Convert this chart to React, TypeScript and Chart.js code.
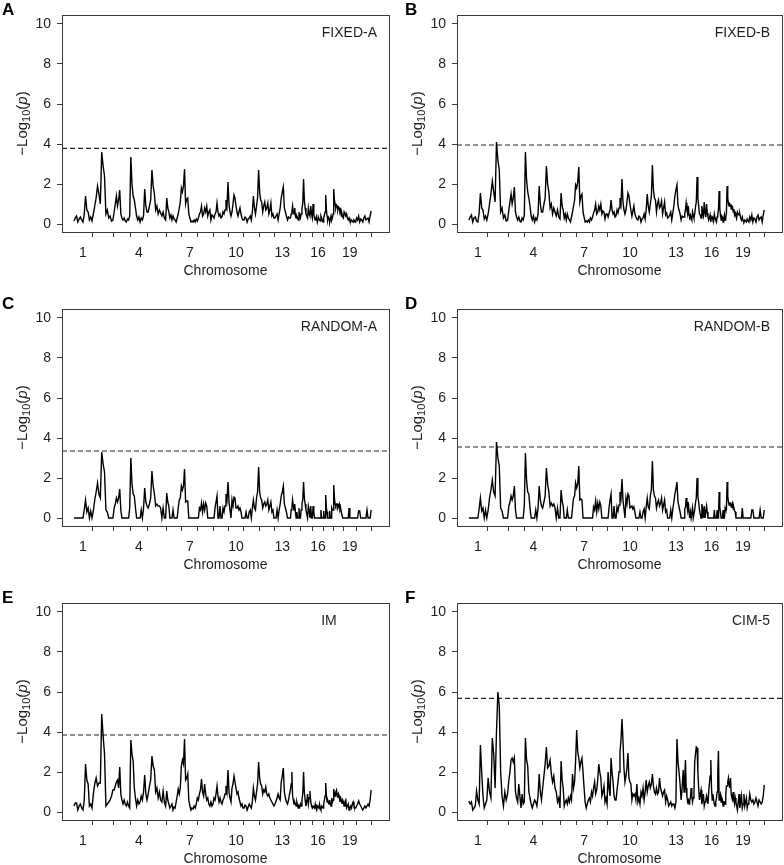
import React, { useEffect, useRef } from "react";
import { Chart, registerables } from "chart.js";

Chart.register(...registerables);

const FONT = "'Liberation Sans', Arial, sans-serif";
const TEXT = "#1e1e1e";
const AXIS = "#3a3a3a";

// Chromosome lengths (cM) and the labelled chromosomes
const CHR_LENGTHS = [116, 126, 100, 104, 112, 94, 96, 94, 90, 90, 94, 92, 94, 64, 72, 64, 60, 62, 74, 94];
const CHR_LABELS = ["1", "4", "7", "10", "13", "16", "19"];
const Y_TICKS = [0, 2, 4, 6, 8, 10];
const Y_MIN = -0.4;
const Y_MAX = 10.45;
const X_MIN = -68;
const X_MAX = 1896;

// -log10(p) scan profiles, one array of values per chromosome
const FIXED_A = [
  [0.15, 0.3, 0.4, 0.1, 0.25, 0.35, 0.2, 0.1, 0.5, 1.4, 0.7, 0.6, 0.2, 0.35, 0.15],
  [0.5, 0.9, 1.3, 1.9, 1.5, 1.0, 3.6, 2.9, 2.4, 0.5, 0.7, 0.3, 0.4, 0.15, 0.2],
  [0.6, 1.0, 1.4, 0.9, 1.2, 1.7, 0.5, 0.3, 0.2, 0.3, 0.15, 0.1, 0.25, 0.2, 0.4],
  [3.35, 2.0, 1.4, 1.2, 0.8, 0.4, 0.2, 0.35, 0.1, 0.3, 0.2, 0.4, 1.75, 0.9, 0.6],
  [0.6, 0.9, 1.2, 2.7, 1.9, 1.5, 0.7, 0.9, 0.5, 0.7, 0.55, 0.4, 0.6, 0.3, 0.2],
  [1.3, 0.8, 0.6, 0.3, 0.45, 0.2, 0.4, 0.25, 0.2, 0.1, 0.3, 0.5, 0.8, 1.1, 1.8],
  [1.6, 1.9, 2.75, 1.0, 1.25, 1.3, 0.5, 0.3, 0.1, 0.15, 0.1, 0.2, 0.1, 0.25, 0.15],
  [0.3, 0.5, 0.6, 0.9, 0.4, 0.5, 0.8, 0.6, 0.9, 0.4, 0.6, 0.7, 0.2, 0.45, 0.4],
  [0.3, 0.5, 0.6, 1.05, 0.6, 0.4, 0.5, 0.3, 0.35, 0.6, 0.5, 0.7, 1.2, 0.9, 2.1],
  [1.0, 0.6, 0.4, 0.6, 1.0, 1.45, 1.3, 0.9, 0.6, 0.4, 0.6, 0.8, 0.5, 0.3, 0.2],
  [0.2, 0.35, 0.3, 0.1, 0.25, 0.3, 0.4, 0.2, 0.6, 1.4, 0.8, 0.5, 0.9, 1.3, 2.7],
  [1.6, 1.2, 1.1, 0.6, 0.9, 1.1, 0.7, 0.8, 1.05, 0.5, 0.7, 1.05, 0.4, 0.5, 0.3],
  [0.3, 0.4, 0.5, 0.2, 0.5, 0.8, 1.3, 1.6, 1.85, 0.8, 0.6, 0.4, 0.2, 0.35, 0.3],
  [0.3, 0.5, 0.6, 0.9, 0.6, 0.5, 0.8, 0.4, 0.3, 0.4, 0.3, 0.2, 0.6, 0.4, 0.3],
  [0.5, 0.8, 1.0, 2.25, 1.2, 0.8, 0.5, 0.4, 0.3, 0.8, 0.5, 0.4, 0.9, 0.5, 0.3],
  [1.0, 0.5, 0.3, 0.2, 0.3, 0.4, 0.1, 0.25, 0.3, 0.2, 0.15, 0.4, 0.3, 0.2, 0.1],
  [0.3, 0.45, 0.6, 1.45, 0.7, 0.4, 0.2, 0.35, 0.3, 0.1, 0.25, 0.4, 0.2, 0.3, 0.5],
  [1.75, 1.2, 1.0, 0.8, 0.95, 0.9, 0.7, 0.85, 0.8, 0.6, 0.7, 0.4, 0.5, 0.35, 0.3],
  [0.6, 0.5, 0.4, 0.5, 0.3, 0.2, 0.3, 0.15, 0.1, 0.2, 0.15, 0.1, 0.2, 0.15, 0.1],
  [0.3, 0.2, 0.4, 0.1, 0.25, 0.2, 0.1, 0.3, 0.4, 0.2, 0.25, 0.3, 0.1, 0.4, 0.65],
];

const FIXED_B = [
  [0.2, 0.35, 0.45, 0.1, 0.3, 0.35, 0.15, 0.1, 0.55, 1.55, 0.8, 0.7, 0.25, 0.4, 0.2],
  [0.5, 1.0, 1.5, 2.15, 1.6, 1.1, 4.1, 3.2, 2.7, 0.6, 0.8, 0.3, 0.45, 0.15, 0.2],
  [0.7, 1.1, 1.5, 1.0, 1.3, 1.85, 0.6, 0.35, 0.2, 0.35, 0.15, 0.1, 0.3, 0.2, 0.45],
  [3.6, 2.2, 1.6, 1.3, 0.9, 0.4, 0.2, 0.4, 0.1, 0.3, 0.2, 0.5, 1.9, 1.0, 0.6],
  [0.6, 1.0, 1.3, 2.9, 2.0, 1.6, 0.8, 1.0, 0.5, 0.8, 0.6, 0.4, 0.7, 0.35, 0.25],
  [1.55, 0.9, 0.7, 0.3, 0.5, 0.2, 0.5, 0.3, 0.2, 0.1, 0.35, 0.6, 0.9, 1.2, 1.95],
  [1.8, 2.1, 2.85, 1.1, 1.4, 1.5, 0.6, 0.35, 0.1, 0.15, 0.1, 0.2, 0.1, 0.3, 0.2],
  [0.35, 0.55, 0.7, 1.0, 0.5, 0.6, 0.9, 0.7, 1.0, 0.5, 0.65, 0.6, 0.25, 0.5, 0.5],
  [0.35, 0.55, 0.7, 1.2, 0.7, 0.5, 0.6, 0.35, 0.4, 0.7, 0.55, 0.8, 1.3, 1.0, 2.25],
  [1.1, 0.7, 0.5, 0.7, 1.1, 1.55, 1.4, 1.0, 0.7, 0.4, 0.65, 0.9, 0.5, 0.35, 0.25],
  [0.2, 0.4, 0.35, 0.1, 0.25, 0.3, 0.5, 0.25, 0.7, 1.5, 0.9, 0.6, 1.0, 1.4, 2.95],
  [1.7, 1.3, 1.2, 0.6, 1.0, 1.2, 0.8, 0.9, 1.15, 0.5, 0.8, 1.1, 0.45, 0.55, 0.3],
  [0.35, 0.45, 0.6, 0.2, 0.55, 0.9, 1.4, 1.7, 1.95, 0.9, 0.7, 0.5, 0.2, 0.4, 0.35],
  [0.35, 0.55, 0.7, 1.05, 0.7, 0.5, 0.9, 0.45, 0.35, 0.45, 0.3, 0.2, 0.6, 0.45, 0.3],
  [0.5, 0.85, 1.1, 2.35, 1.3, 0.9, 0.5, 0.45, 0.3, 0.9, 0.55, 0.4, 1.1, 0.55, 0.35],
  [1.0, 0.55, 0.35, 0.2, 0.3, 0.45, 0.1, 0.3, 0.35, 0.2, 0.15, 0.5, 0.3, 0.2, 0.1],
  [0.35, 0.5, 0.7, 1.65, 0.8, 0.45, 0.2, 0.4, 0.35, 0.1, 0.25, 0.45, 0.2, 0.3, 0.55],
  [1.9, 1.3, 1.0, 0.9, 1.0, 0.95, 0.75, 0.9, 0.85, 0.6, 0.75, 0.45, 0.55, 0.4, 0.3],
  [0.6, 0.5, 0.45, 0.5, 0.3, 0.2, 0.35, 0.15, 0.1, 0.2, 0.15, 0.1, 0.25, 0.15, 0.1],
  [0.35, 0.2, 0.45, 0.1, 0.3, 0.25, 0.1, 0.35, 0.45, 0.2, 0.3, 0.35, 0.1, 0.45, 0.7],
];

const RANDOM_A = [
  [0, 0, 0, 0, 0, 0, 0, 0, 0.4, 0.9, 0.3, 0.5, 0, 0.35, 0],
  [0.35, 0.9, 1.3, 1.75, 1.2, 1.0, 3.3, 2.7, 2.3, 0.4, 0.3, 0, 0, 0, 0],
  [0.5, 0.7, 1.0, 0.8, 1.0, 1.45, 0.4, 0, 0, 0, 0, 0, 0, 0, 0.5],
  [3.0, 1.7, 1.2, 1.1, 0.5, 0, 0, 0, 0, 0.4, 0, 0.5, 1.5, 0.8, 0.6],
  [0.5, 0.7, 1.0, 2.35, 1.6, 1.2, 0.6, 0.7, 0.6, 0.6, 0.5, 0, 0.5, 0, 0],
  [1.25, 0.8, 0.6, 0, 0, 0, 0.4, 0, 0, 0, 0, 0.5, 0.9, 1.0, 1.6],
  [1.4, 1.6, 2.45, 0.8, 0.85, 0.85, 0, 0, 0, 0, 0, 0, 0, 0, 0],
  [0, 0.5, 0.4, 0.75, 0.3, 0.7, 0.4, 0.75, 0.6, 0, 0, 0, 0, 0, 0],
  [0, 0.5, 0.8, 1.1, 0, 0, 0.6, 0, 0, 0.5, 0.3, 0.6, 1.2, 0.9, 1.8],
  [0.8, 0.4, 0, 0.9, 0.6, 1.05, 1.0, 0.5, 0.5, 0.6, 0.4, 0.5, 0.3, 0, 0],
  [0, 0, 0.3, 0, 0, 0.3, 0.4, 0, 0.5, 0.9, 0.5, 0.4, 1.0, 1.3, 2.55],
  [1.3, 1.0, 0.9, 0.5, 0.7, 0.8, 0.6, 0.7, 0.9, 0.4, 0.6, 0.8, 0.3, 0.4, 0],
  [0, 0, 0.4, 0, 0.4, 0.7, 1.1, 1.3, 1.6, 0.7, 0.5, 0.3, 0, 0, 0],
  [0, 0.4, 0.5, 0.9, 0.6, 0.4, 0.7, 0.3, 0, 0.3, 0, 0, 0.5, 0, 0],
  [0.4, 0.7, 0.9, 1.8, 1.0, 0.7, 0.4, 0.2, 0, 0.6, 0.4, 0, 0.6, 0, 0],
  [0.6, 0.3, 0, 0, 0, 0, 0, 0, 0, 0, 0, 0.4, 0, 0, 0],
  [0.35, 0, 0, 1.15, 0.5, 0.3, 0, 0, 0, 0.35, 0, 0, 0.5, 0.4, 0.4],
  [1.65, 1.0, 0.7, 0.6, 0.7, 0.7, 0.5, 0.6, 0.7, 0.4, 0.5, 0.3, 0.3, 0, 0],
  [0, 0, 0, 0, 0, 0, 0.5, 0, 0, 0, 0, 0, 0, 0, 0],
  [0, 0, 0.35, 0.35, 0, 0, 0, 0, 0, 0, 0.4, 0, 0, 0, 0.4],
];

const RANDOM_B = [
  [0, 0, 0, 0, 0, 0, 0, 0, 0.45, 1.0, 0.35, 0.5, 0, 0.4, 0],
  [0.4, 1.0, 1.4, 1.9, 1.3, 1.1, 3.8, 3.0, 2.6, 0.5, 0.35, 0, 0, 0, 0],
  [0.6, 0.8, 1.1, 0.9, 1.1, 1.6, 0.4, 0, 0, 0, 0, 0, 0, 0, 0.6],
  [3.25, 1.9, 1.3, 1.2, 0.5, 0, 0, 0, 0, 0.4, 0, 0.5, 1.6, 0.9, 0.6],
  [0.5, 0.8, 1.1, 2.5, 1.7, 1.3, 0.6, 0.75, 0.6, 0.7, 0.5, 0, 0.5, 0, 0],
  [1.4, 0.85, 0.6, 0, 0, 0, 0.4, 0, 0, 0, 0, 0.5, 1.0, 1.1, 1.75],
  [1.5, 1.7, 2.6, 0.9, 0.95, 0.9, 0, 0, 0, 0, 0, 0, 0, 0, 0],
  [0, 0.55, 0.4, 0.85, 0.3, 0.75, 0.45, 0.8, 0.6, 0, 0, 0, 0, 0, 0],
  [0, 0.55, 0.9, 1.2, 0, 0, 0.6, 0, 0, 0.55, 0.35, 0.65, 1.3, 1.0, 1.95],
  [0.9, 0.45, 0, 1.0, 0.7, 1.2, 1.1, 0.5, 0.55, 0.6, 0.45, 0.55, 0.3, 0, 0],
  [0, 0, 0.3, 0, 0, 0.3, 0.45, 0, 0.55, 1.0, 0.55, 0.45, 1.1, 1.4, 2.85],
  [1.4, 1.1, 1.0, 0.5, 0.75, 0.9, 0.6, 0.75, 1.0, 0.4, 0.65, 0.9, 0.3, 0.4, 0],
  [0, 0, 0.4, 0, 0.45, 0.8, 1.2, 1.45, 1.8, 0.8, 0.55, 0.3, 0, 0, 0],
  [0, 0.45, 0.55, 1.0, 0.65, 0.4, 0.8, 0.3, 0, 0.3, 0, 0, 0.5, 0, 0],
  [0.4, 0.75, 1.0, 2.0, 1.1, 0.8, 0.4, 0.2, 0, 0.7, 0.45, 0, 0.6, 0, 0],
  [0.6, 0.3, 0, 0, 0, 0, 0, 0, 0, 0, 0, 0.4, 0, 0, 0],
  [0.4, 0, 0, 1.3, 0.55, 0.3, 0, 0, 0, 0.4, 0, 0, 0.5, 0.4, 0.4],
  [1.8, 1.1, 0.8, 0.65, 0.75, 0.75, 0.55, 0.65, 0.75, 0.45, 0.5, 0.35, 0.3, 0, 0],
  [0, 0, 0, 0, 0, 0, 0.5, 0, 0, 0, 0, 0, 0, 0, 0],
  [0, 0, 0.4, 0.4, 0, 0, 0, 0, 0, 0, 0.4, 0, 0, 0, 0.4],
];

const IM = [
  [0.3, 0.45, 0.45, 0.1, 0.3, 0.4, 0.2, 0.1, 0.6, 2.4, 1.6, 1.4, 0.3, 0.4, 0.2],
  [0.9, 1.4, 1.7, 1.3, 1.45, 1.45, 4.9, 3.8, 2.9, 0.3, 0.4, 0.5, 0.6, 0.8, 1.1],
  [1.1, 1.3, 1.5, 1.6, 1.2, 2.25, 0.9, 0.6, 0.4, 0.6, 0.4, 0.3, 0.5, 0.3, 0.2],
  [3.6, 2.9, 2.55, 1.2, 0.7, 0.3, 0.6, 0.4, 0.5, 0.8, 0.6, 1.0, 1.85, 0.9, 0.6],
  [0.9, 1.3, 1.6, 2.8, 2.3, 2.1, 1.0, 1.2, 0.7, 1.0, 0.6, 0.5, 1.05, 0.5, 0.3],
  [1.05, 0.6, 0.4, 0.2, 0.3, 0.4, 0.1, 0.25, 0.2, 0.5, 0.8, 1.15, 0.9, 1.2, 2.3],
  [2.6, 2.4, 3.65, 1.6, 1.7, 1.9, 0.6, 0.3, 0.1, 0.2, 0.15, 0.3, 0.2, 0.4, 0.7],
  [0.6, 0.9, 1.1, 1.65, 1.0, 0.8, 1.4, 0.9, 0.6, 0.7, 0.4, 0.3, 0.5, 0.3, 0.4],
  [0.7, 0.6, 0.9, 1.3, 0.8, 0.5, 0.7, 0.5, 0.4, 0.6, 0.7, 0.9, 1.3, 1.0, 2.1],
  [1.0, 0.7, 0.5, 1.2, 1.4, 1.8, 1.5, 1.2, 0.9, 1.0, 0.7, 0.5, 0.3, 0.4, 0.2],
  [0.2, 0.35, 0.3, 0.1, 0.25, 0.4, 0.3, 0.2, 0.5, 1.2, 0.8, 0.6, 1.0, 1.4, 2.5],
  [1.7, 1.4, 1.3, 0.9, 1.1, 1.0, 1.25, 0.9, 0.8, 0.9, 0.7, 0.6, 0.5, 0.4, 0.3],
  [0.4, 0.55, 0.7, 0.9, 0.7, 0.6, 1.5, 1.8, 2.2, 1.0, 0.7, 0.5, 0.4, 0.6, 0.9],
  [1.1, 1.4, 2.0, 0.8, 0.6, 0.4, 0.5, 0.4, 0.3, 0.5, 0.35, 0.2, 0.3, 0.25, 0.4],
  [0.3, 0.6, 0.9, 2.0, 1.0, 0.6, 0.3, 0.5, 0.9, 0.4, 0.7, 1.05, 0.5, 0.3, 0.2],
  [0.3, 0.25, 0.2, 0.4, 0.2, 0.1, 0.3, 0.25, 0.2, 0.4, 0.2, 0.1, 0.3, 0.25, 0.2],
  [0.4, 0.6, 0.8, 1.45, 0.8, 0.5, 0.6, 0.5, 0.4, 0.6, 0.4, 0.3, 0.7, 0.5, 0.6],
  [1.15, 0.9, 0.8, 1.0, 1.1, 0.9, 0.7, 0.9, 0.8, 0.5, 0.7, 0.6, 0.4, 0.6, 0.5],
  [0.3, 0.5, 0.6, 0.2, 0.3, 0.4, 0.1, 0.2, 0.3, 0.2, 0.4, 0.5, 0.3, 0.2, 0.2],
  [0.3, 0.4, 0.55, 0.4, 0.3, 0.2, 0.1, 0.2, 0.3, 0.2, 0.3, 0.4, 0.3, 0.6, 1.1],
];

const CIM_5 = [
  [0.55, 0.4, 0.5, 0.1, 0.2, 0.3, 1.05, 0.6, 0.4, 3.35, 2.0, 0.8, 0.2, 0.4, 0.6],
  [1.7, 1.0, 0.7, 3.7, 2.9, 1.2, 4.0, 6.0, 5.3, 2.0, 0.8, 0.3, 1.0, 0.6, 0.9],
  [1.6, 2.0, 2.6, 2.7, 2.5, 2.7, 1.0, 0.7, 0.5, 1.4, 0.8, 0.2, 0.9, 0.4, 0.5],
  [3.7, 2.6, 2.3, 1.0, 0.7, 0.4, 0.2, 0.4, 0.6, 0.5, 0.3, 0.8, 1.9, 1.0, 0.6],
  [1.2, 1.8, 2.4, 3.25, 2.2, 2.3, 2.6, 1.9, 1.5, 1.8, 1.2, 1.0, 0.5, 0.7, 0.2],
  [2.55, 1.6, 1.2, 0.3, 0.5, 0.6, 0.4, 0.7, 0.5, 0.8, 0.6, 1.9, 1.2, 1.5, 2.6],
  [4.1, 3.0, 2.7, 2.2, 2.5, 2.7, 2.0, 1.2, 0.5, 0.2, 0.4, 0.6, 0.7, 0.5, 1.0],
  [0.8, 1.2, 1.5, 0.9, 1.1, 1.6, 2.4, 2.0, 1.7, 0.8, 1.0, 1.3, 0.5, 0.7, 0.4],
  [2.0, 1.2, 0.8, 2.7, 2.0, 1.5, 0.8, 0.6, 0.6, 1.1, 1.5, 2.0, 3.0, 3.6, 4.65],
  [3.6, 2.2, 1.5, 1.8, 2.2, 2.95, 1.7, 1.5, 1.4, 0.6, 0.9, 0.8, 0.9, 0.6, 1.4],
  [0.5, 0.7, 0.4, 1.0, 0.8, 1.2, 0.6, 1.0, 1.6, 1.0, 1.3, 1.5, 1.2, 1.4, 1.9],
  [1.3, 1.0, 0.9, 1.2, 0.9, 1.0, 1.7, 1.2, 1.0, 0.8, 1.0, 1.1, 0.5, 0.8, 0.6],
  [0.3, 0.4, 0.5, 0.3, 0.4, 0.4, 0.2, 0.5, 3.65, 2.5, 2.0, 1.4, 0.6, 1.2, 2.1],
  [1.0, 1.8, 2.6, 1.2, 0.8, 0.5, 0.6, 0.4, 0.6, 0.7, 1.2, 0.8, 0.5, 0.7, 0.9],
  [2.5, 2.9, 3.25, 3.2, 2.0, 1.2, 0.6, 0.9, 1.1, 0.4, 0.6, 0.9, 0.3, 0.5, 0.6],
  [0.8, 0.6, 0.4, 1.0, 1.4, 1.8, 2.6, 1.2, 0.6, 0.9, 0.6, 0.4, 0.3, 0.5, 0.7],
  [1.0, 2.0, 3.05, 0.6, 0.8, 0.9, 0.5, 0.7, 0.6, 0.3, 0.5, 0.5, 0.4, 0.8, 1.3],
  [1.3, 1.5, 1.7, 1.4, 1.2, 1.7, 0.9, 0.7, 0.6, 1.0, 0.6, 0.4, 0.7, 0.5, 0.3],
  [0.1, 0.5, 0.9, 0.2, 0.5, 0.8, 0.2, 0.4, 0.9, 0.3, 0.5, 0.7, 0.2, 0.4, 0.5],
  [0.9, 0.6, 0.5, 0.6, 0.4, 0.5, 0.7, 0.5, 0.3, 0.6, 0.5, 0.4, 0.5, 0.8, 1.35],
];

const PANEL_LETTERS = ["A", "B", "C", "D", "E", "F"];
const PANEL_TITLES = ["FIXED-A", "FIXED-B", "RANDOM-A", "RANDOM-B", "IM", "CIM-5"];
const THRESHOLDS = [3.78, 3.95, 3.35, 3.55, 3.85, 5.68];
const SERIES = [FIXED_A, FIXED_B, RANDOM_A, RANDOM_B, IM, CIM_5];

const PANEL_W = 392;
const PANEL_H = 294;

function toPoints(series: number[][]) {
  const pts: { x: number; y: number }[] = [];
  let start = 0;
  series.forEach((vals, c) => {
    const len = CHR_LENGTHS[c];
    vals.forEach((v, i) => pts.push({ x: start + ((i + 0.5) * len) / vals.length, y: v }));
    start += len;
  });
  return pts;
}

function buildXTicks() {
  const ticks: { value: number; label: string; mark: boolean }[] = [];
  let start = 0;
  CHR_LENGTHS.forEach((len, c) => {
    const name = String(c + 1);
    if (CHR_LABELS.includes(name)) ticks.push({ value: start + len / 2, label: name, mark: false });
    ticks.push({ value: start + len, label: "", mark: true });
    start += len;
  });
  return ticks;
}

function Panel({ index }: { index: number }) {
  const ref = useRef<HTMLCanvasElement>(null);
  const col = index % 2;
  const row = Math.floor(index / 2);

  useEffect(() => {
    const canvas = ref.current;
    if (!canvas) return;
    const xTicks = buildXTicks();
    const leftEdge = col === 0 ? 62 : 65;
    const title = PANEL_TITLES[index];
    const letter = PANEL_LETTERS[index];

    const decor = {
      id: "decor",
      afterDraw(chart: any) {
        const { ctx, chartArea } = chart;
        const { left, right, top, bottom } = chartArea;
        ctx.save();
        ctx.strokeStyle = AXIS;
        ctx.lineWidth = 1;
        ctx.strokeRect(Math.round(left) + 0.5, Math.round(top) + 0.5, Math.round(right - left), Math.round(bottom - top));
        ctx.fillStyle = "#000";
        ctx.font = `bold 17px ${FONT}`;
        ctx.textAlign = "left";
        ctx.textBaseline = "alphabetic";
        ctx.fillText(letter, col === 0 ? 2 : 13, 15);
        ctx.font = `14px ${FONT}`;
        ctx.fillStyle = TEXT;
        ctx.textBaseline = "middle";
        const w = ctx.measureText(title).width;
        const lx = title === "IM" ? 329 - w / 2 : right - 12 - w;
        ctx.fillText(title, lx, top + 18);
        const cy = (top + bottom) / 2;
        const cx = left - 40;
        ctx.translate(cx, cy);
        ctx.rotate(-Math.PI / 2);
        const parts = [
          { t: "\u2212Log", f: `15px ${FONT}`, dy: 0 },
          { t: "10", f: `11px ${FONT}`, dy: 3 },
          { t: "(", f: `15px ${FONT}`, dy: 0 },
          { t: "p", f: `italic 15px ${FONT}`, dy: 0 },
          { t: ")", f: `15px ${FONT}`, dy: 0 },
        ];
        let total = 0;
        parts.forEach((p) => {
          ctx.font = p.f;
          total += ctx.measureText(p.t).width;
        });
        let x = -total / 2;
        ctx.textAlign = "left";
        ctx.textBaseline = "alphabetic";
        parts.forEach((p) => {
          ctx.font = p.f;
          ctx.fillText(p.t, x, 5 + p.dy);
          x += ctx.measureText(p.t).width;
        });
        ctx.restore();
      },
    };

    const chart = new Chart(canvas, {
      type: "line",
      data: {
        datasets: [
          {
            data: toPoints(SERIES[index]),
            borderColor: "#000",
            borderWidth: 1.4,
            pointRadius: 0,
            tension: 0,
            fill: false,
          },
          {
            data: [
              { x: X_MIN, y: THRESHOLDS[index] },
              { x: X_MAX, y: THRESHOLDS[index] },
            ],
            borderColor: "#222",
            borderWidth: 1.1,
            borderDash: [5, 3],
            pointRadius: 0,
            fill: false,
          },
        ],
      },
      options: {
        animation: false,
        responsive: false,
        devicePixelRatio: 1,
        events: [],
        layout: { padding: { top: 15, right: col === 0 ? 3 : 2, bottom: 0, left: 0 } },
        plugins: { legend: { display: false }, tooltip: { enabled: false } },
        scales: {
          x: {
            type: "linear",
            min: X_MIN,
            max: X_MAX,
            afterBuildTicks: (s: any) => {
              s.ticks = xTicks.map((t) => ({ value: t.value }));
            },
            afterFit: (s: any) => {
              s.height = 62;
            },
            ticks: {
              autoSkip: false,
              maxRotation: 0,
              minRotation: 0,
              padding: 8,
              color: TEXT,
              font: { family: FONT, size: 14 },
              callback: (_v: any, i: number) => xTicks[i].label,
            },
            grid: {
              drawOnChartArea: false,
              drawTicks: true,
              tickLength: 5,
              tickColor: (ctx: any) => (xTicks[ctx.index] && xTicks[ctx.index].mark ? AXIS : "rgba(0,0,0,0)"),
            },
            border: { display: true, color: AXIS, width: 1 },
            title: {
              display: true,
              text: "Chromosome",
              color: TEXT,
              font: { family: FONT, size: 14 },
              padding: { top: 0, bottom: 14 },
            },
          },
          y: {
            type: "linear",
            min: Y_MIN,
            max: Y_MAX,
            afterBuildTicks: (s: any) => {
              s.ticks = Y_TICKS.map((v) => ({ value: v }));
            },
            afterFit: (s: any) => {
              s.width = leftEdge;
            },
            ticks: { padding: 6, color: TEXT, font: { family: FONT, size: 14 } },
            grid: { drawOnChartArea: false, drawTicks: true, tickLength: 5, tickColor: AXIS },
            border: { display: true, color: AXIS, width: 1 },
          },
        },
      },
      plugins: [decor],
    } as any);
    return () => chart.destroy();
  }, [index]);

  return (
    <canvas
      ref={ref}
      width={PANEL_W}
      height={PANEL_H}
      style={{ position: "absolute", left: col * PANEL_W, top: row * PANEL_H, width: PANEL_W, height: PANEL_H }}
    />
  );
}

export default function App() {
  return (
    <div
      style={{
        position: "absolute",
        left: 0,
        top: 0,
        width: 784,
        height: 865,
        overflow: "hidden",
        background: "#fff",
      }}
    >
      {PANEL_TITLES.map((_, i) => (
        <Panel key={i} index={i} />
      ))}
    </div>
  );
}
